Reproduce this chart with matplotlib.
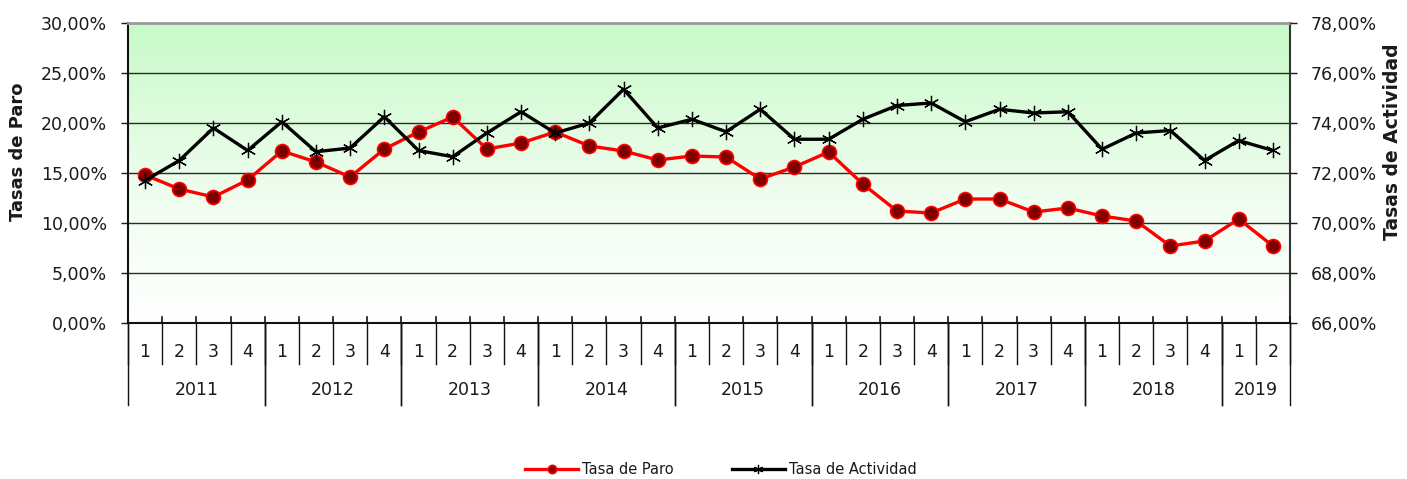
import numpy as np
import matplotlib
matplotlib.use("Agg")
import matplotlib.pyplot as plt
from matplotlib.ticker import FuncFormatter, MultipleLocator
import matplotlib.transforms as mtransforms
from matplotlib.colors import LinearSegmentedColormap

years = ["2011", "2012", "2013", "2014", "2015", "2016", "2017", "2018", "2019"]
quarters_per_year = [4, 4, 4, 4, 4, 4, 4, 4, 2]
quarter_labels = ["1", "2", "3", "4"] * 8 + ["1", "2"]

tasa_paro = [14.8, 13.4, 12.6, 14.3, 17.2, 16.1, 14.6, 17.4,
             19.1, 20.6, 17.4, 18.0, 19.1, 17.7, 17.2, 16.3,
             16.7, 16.6, 14.4, 15.6, 17.1, 13.9, 11.2, 11.0,
             12.4, 12.4, 11.1, 11.5, 10.7, 10.2, 7.7, 8.2,
             10.4, 7.7]
tasa_actividad = [71.7, 72.5, 73.8, 72.9, 74.05, 72.85, 73.0, 74.25,
                  72.9, 72.65, 73.6, 74.45, 73.6, 74.0, 75.35, 73.8,
                  74.15, 73.65, 74.55, 73.35, 73.35, 74.15, 74.7, 74.8,
                  74.05, 74.55, 74.4, 74.45, 72.95, 73.6, 73.7, 72.5,
                  73.3, 72.9]

FONT = "DejaVu Sans"
plt.rcParams['font.family'] = [FONT]
TXT = "#1a1a1a"

W, H = 1407, 479
fig = plt.figure(figsize=(W / 100, H / 100), dpi=100)
L, R, T, B = 128, 1290, 23, 323
ax = fig.add_axes([L / W, 1 - B / H, (R - L) / W, (B - T) / H])

n = len(tasa_paro)
x = np.arange(n)
ax.set_xlim(-0.5, n - 0.5)
ax.set_ylim(0, 30)

# gradient background
cmap = LinearSegmentedColormap.from_list(
    "g", [(0.0, "#ffffff"), (0.45, "#eefdee"), (1.0, "#c8fac8")], N=256)
grad = np.linspace(0, 1, 256).reshape(-1, 1)
ax.imshow(grad, aspect="auto", cmap=cmap, origin="lower",
          extent=[-0.5, n - 0.5, 0, 30], zorder=0)

ax.yaxis.set_major_locator(MultipleLocator(5))
fmt = FuncFormatter(lambda v, p: f"{v:.2f}".replace(".", ",") + "%")
ax.yaxis.set_major_formatter(fmt)
for gv in [5, 10, 15, 20, 25]:
    ax.axhline(gv, color="#2a2a2a", linewidth=1.0, zorder=1)
ax.tick_params(axis="y", direction="out", length=5, width=1, labelsize=12.5, pad=10, colors=TXT)
ax.set_xticks([])

for s in ["left", "right", "bottom"]:
    ax.spines[s].set_color("#111111")
    ax.spines[s].set_linewidth(1.5)
ax.spines["right"].set_color("#333333")
ax.spines["top"].set_color("#999999")
ax.spines["top"].set_linewidth(2.0)

ax.plot(x, tasa_paro, color="#ff0000", linewidth=2.4, marker="o", markersize=10,
        markerfacecolor="#800000", markeredgecolor="#ff0000", markeredgewidth=1.2,
        zorder=3, label="Tasa de Paro")

ax2 = ax.twinx()
ax2.set_ylim(66, 78)
ax2.yaxis.set_major_locator(MultipleLocator(2))
ax2.yaxis.set_major_formatter(fmt)
ax2.tick_params(axis="y", direction="out", length=5, width=1, labelsize=12.5, pad=10, colors=TXT)
for s in ax2.spines.values():
    s.set_visible(False)
ax2.plot(x, tasa_actividad, color="#000000", linewidth=2.4, marker=(6, 2, 0), markersize=11,
         markeredgecolor="#000000", markeredgewidth=0.9, zorder=4, label="Tasa de Actividad")

# category axis
trans = mtransforms.blended_transform_factory(ax.transData, ax.transAxes)
px = 1.0 / (B - T)
for k in range(n + 1):
    xb = k - 0.5
    ax.plot([xb, xb], [0, 6 * px], transform=trans, color="#111111", lw=1.2, clip_on=False, zorder=5)
    ax.plot([xb, xb], [0, -41 * px], transform=trans, color="#111111", lw=1.0, clip_on=False, zorder=5)
for i, q in enumerate(quarter_labels):
    ax.text(i, -29 * px, q, transform=trans, ha="center", va="center", fontsize=12.5, color=TXT)
start = 0
for yr, nq in zip(years, quarters_per_year):
    for xb in (start - 0.5, start + nq - 0.5):
        ax.plot([xb, xb], [0, -82 * px], transform=trans, color="#111111", lw=1.0, clip_on=False, zorder=5)
    ax.text(start + (nq - 1) / 2, -67 * px, yr, transform=trans, ha="center", va="center",
            fontsize=12.5, color=TXT)
    start += nq

fig.text(18 / W, 1 - 152 / H, "Tasas de Paro", rotation=90, ha="center", va="center",
         fontsize=13, fontweight="bold", color=TXT)
fig.text(1393 / W, 1 - 142 / H, "Tasas de Actividad", rotation=90, ha="center", va="center",
         fontsize=13.5, fontweight="bold", color=TXT)

h1, l1 = ax.get_legend_handles_labels()
h2, l2 = ax2.get_legend_handles_labels()
leg = fig.legend(h1 + h2, l1 + l2, loc="center", bbox_to_anchor=(721 / W, 1 - 470 / H),
                 ncol=2, frameon=False, fontsize=10.5, handlelength=3.6, columnspacing=4,
                 handletextpad=0.3, markerscale=0.6)
for t in leg.get_texts():
    t.set_color(TXT)

fig.savefig("out.png", dpi=100)
